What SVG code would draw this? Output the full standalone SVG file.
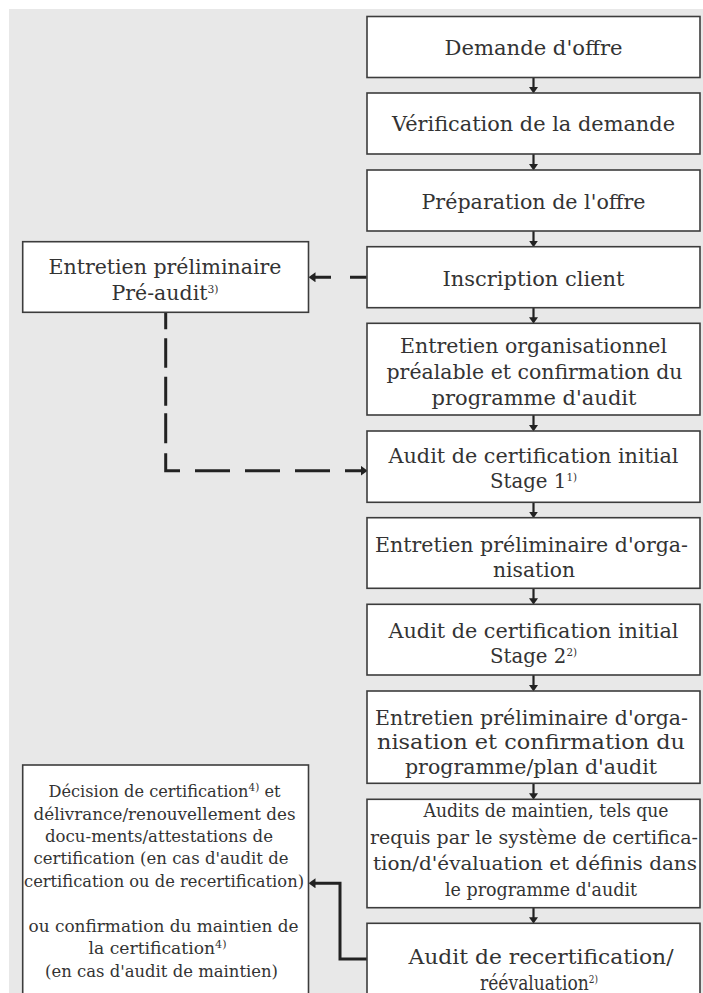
<svg xmlns="http://www.w3.org/2000/svg" width="703" height="993" viewBox="0 0 703 993">
<style>
.bg{fill:#e8e8e8}
.box{fill:#fff;stroke:#3c3c3c;stroke-width:1.6}
.t{font-family:"DejaVu Serif","Liberation Serif",serif;font-size:21px;fill:#333;text-anchor:middle}
.md{font-size:19px}
.sm{font-size:17px}
.sup{font-size:11px}
.conn{fill:none;stroke:#222;stroke-width:2.2}
.thick{fill:none;stroke:#222;stroke-width:3}
</style>
<defs>
<marker id="ah" markerUnits="userSpaceOnUse" markerWidth="7" markerHeight="9" viewBox="0 0 7 9" refX="2" refY="4.5" orient="auto">
<path d="M0,0 L6.5,4.5 L0,9 z" fill="#222"/>
</marker>
<marker id="ahb" markerUnits="userSpaceOnUse" markerWidth="8" markerHeight="10" viewBox="0 0 8 10" refX="2" refY="5" orient="auto">
<path d="M0,0 L7,5 L0,10 z" fill="#222"/>
</marker>
</defs>
<rect class="bg" x="9" y="9" width="694" height="984"/>

<g id="connectors">
<path class="conn" d="M533.5,77.5 V89" marker-end="url(#ah)"/>
<path class="conn" d="M533.5,154 V166" marker-end="url(#ah)"/>
<path class="conn" d="M533.5,231 V242.7" marker-end="url(#ah)"/>
<path class="conn" d="M533.5,307.7 V319.3" marker-end="url(#ah)"/>
<path class="conn" d="M533.5,415 V427" marker-end="url(#ah)"/>
<path class="conn" d="M533.5,502.3 V513.7" marker-end="url(#ah)"/>
<path class="conn" d="M533.5,588.3 V600.3" marker-end="url(#ah)"/>
<path class="conn" d="M533.5,675 V687" marker-end="url(#ah)"/>
<path class="conn" d="M533.5,783.3 V795.3" marker-end="url(#ah)"/>
<path class="conn" d="M533.5,907.7 V919.3" marker-end="url(#ah)"/>
<path class="thick" d="M366.7,277.3 H313.5" stroke-dasharray="16.7 19 100" marker-end="url(#ahb)"/>
<path class="thick" d="M165.7,312.3 V470.7 H362.7" stroke-dasharray="17 9 29.4 9 29 7.6 30 10 31.7 15 35 15 35 15 35 15 100" marker-end="url(#ahb)"/>
<path class="thick" d="M367,959 H340 V883.3 H313.5" marker-end="url(#ahb)"/>
</g>

<g id="n1"><rect class="box" x="367" y="16.5" width="333" height="61"/>
<text class="t" x="533.5" y="55" textLength="178" lengthAdjust="spacingAndGlyphs">Demande d'offre</text></g>
<g id="n2"><rect class="box" x="367" y="93" width="333" height="61"/>
<text class="t" x="533.5" y="131" textLength="283" lengthAdjust="spacingAndGlyphs">Vérification de la demande</text></g>
<g id="n3"><rect class="box" x="367" y="170" width="333" height="61"/>
<text class="t" x="533.5" y="208.5" textLength="224" lengthAdjust="spacingAndGlyphs">Préparation de l'offre</text></g>
<g id="n4"><rect class="box" x="367" y="246.7" width="333" height="61"/>
<text class="t" x="533.5" y="286" textLength="182" lengthAdjust="spacingAndGlyphs">Inscription client</text></g>
<g id="n5"><rect class="box" x="367" y="323.3" width="333" height="91.7"/>
<text class="t" x="533.5" y="353" textLength="267" lengthAdjust="spacingAndGlyphs">Entretien organisationnel</text>
<text class="t" x="534.5" y="379" textLength="296" lengthAdjust="spacingAndGlyphs">préalable et confirmation du</text>
<text class="t" x="534" y="405" textLength="205" lengthAdjust="spacingAndGlyphs">programme d'audit</text></g>
<g id="n6"><rect class="box" x="367" y="431" width="333" height="71.3"/>
<text class="t" x="533.5" y="463" textLength="290" lengthAdjust="spacingAndGlyphs">Audit de certification initial</text>
<text class="t" x="533.5" y="488" textLength="87" lengthAdjust="spacingAndGlyphs">Stage 1<tspan class="sup" dy="-7">1)</tspan></text></g>
<g id="n7"><rect class="box" x="367" y="517.7" width="333" height="70.6"/>
<text class="t" x="531.5" y="552" textLength="313" lengthAdjust="spacingAndGlyphs">Entretien préliminaire d'orga-</text>
<text class="t" x="534" y="577" textLength="82" lengthAdjust="spacingAndGlyphs">nisation</text></g>
<g id="n8"><rect class="box" x="367" y="604.3" width="333" height="70.7"/>
<text class="t" x="533.5" y="637.5" textLength="290" lengthAdjust="spacingAndGlyphs">Audit de certification initial</text>
<text class="t" x="533.5" y="662.5" textLength="87" lengthAdjust="spacingAndGlyphs">Stage 2<tspan class="sup" dy="-7">2)</tspan></text></g>
<g id="n9"><rect class="box" x="367" y="691" width="333" height="92.3"/>
<text class="t" x="531.5" y="724.5" textLength="313" lengthAdjust="spacingAndGlyphs">Entretien préliminaire d'orga-</text>
<text class="t" x="531" y="749" textLength="308" lengthAdjust="spacingAndGlyphs">nisation et confirmation du</text>
<text class="t" x="531" y="773.5" textLength="252" lengthAdjust="spacingAndGlyphs">programme/plan d'audit</text></g>
<g id="n10"><rect class="box" x="367" y="799.3" width="333" height="108.4"/>
<text class="t md" x="546" y="817" textLength="245" lengthAdjust="spacingAndGlyphs">Audits de maintien, tels que</text>
<text class="t md" x="534" y="843.5" textLength="328" lengthAdjust="spacingAndGlyphs">requis par le système de certifica-</text>
<text class="t md" x="535" y="870" textLength="324" lengthAdjust="spacingAndGlyphs">tion/d'évaluation et définis dans</text>
<text class="t md" x="541" y="896" textLength="192" lengthAdjust="spacingAndGlyphs">le programme d'audit</text></g>
<g id="n11"><rect class="box" x="367" y="923.3" width="333" height="90"/>
<text class="t" x="541" y="963.5" textLength="265" lengthAdjust="spacingAndGlyphs">Audit de recertification/</text>
<text class="t" x="539" y="989.5" textLength="118" lengthAdjust="spacingAndGlyphs">réévaluation<tspan class="sup" dy="-7">2)</tspan></text></g>

<g id="pre"><rect class="box" x="22.7" y="241.7" width="285.8" height="70.6"/>
<text class="t" x="165" y="273.5" textLength="233" lengthAdjust="spacingAndGlyphs">Entretien préliminaire</text>
<text class="t" x="165" y="299.5" textLength="107" lengthAdjust="spacingAndGlyphs">Pré-audit<tspan class="sup" dy="-7">3)</tspan></text></g>

<g id="decision"><rect class="box" x="22.7" y="765" width="285.8" height="240"/>
<text class="t sm" x="164.5" y="797" textLength="232" lengthAdjust="spacingAndGlyphs">Décision de certification<tspan class="sup" dy="-6">4)</tspan><tspan dy="6"> et</tspan></text>
<text class="t sm" x="164.5" y="819.5" textLength="262" lengthAdjust="spacingAndGlyphs">délivrance/renouvellement des</text>
<text class="t sm" x="159" y="842" textLength="228" lengthAdjust="spacingAndGlyphs">docu-ments/attestations de</text>
<text class="t sm" x="161" y="863.5" textLength="255" lengthAdjust="spacingAndGlyphs">certification (en cas d'audit de</text>
<text class="t sm" x="164" y="886.5" textLength="280" lengthAdjust="spacingAndGlyphs">certification ou de recertification)</text>
<text class="t sm" x="163.5" y="931.5" textLength="270" lengthAdjust="spacingAndGlyphs">ou confirmation du maintien de</text>
<text class="t sm" x="157.5" y="953.5" textLength="138" lengthAdjust="spacingAndGlyphs">la certification<tspan class="sup" dy="-6">4)</tspan></text>
<text class="t sm" x="161.5" y="976.5" textLength="233" lengthAdjust="spacingAndGlyphs">(en cas d'audit de maintien)</text></g>
</svg>
